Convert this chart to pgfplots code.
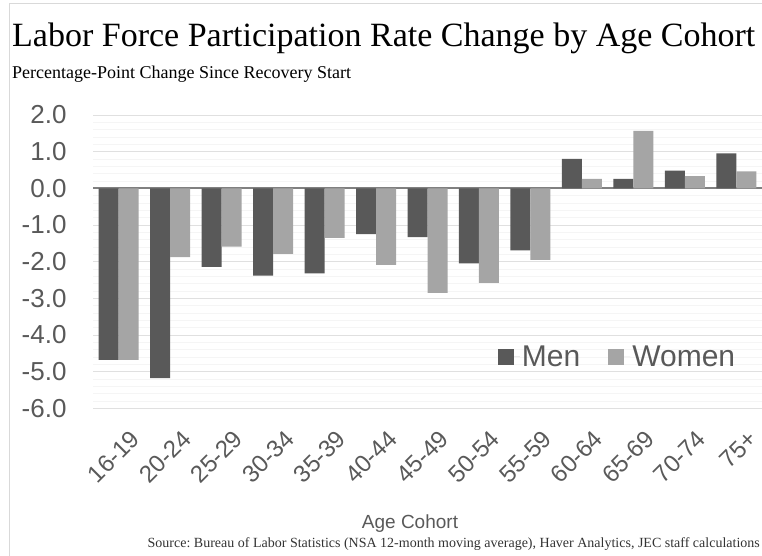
\documentclass[border=0pt]{standalone}
\usepackage{fontspec}
\setmainfont{Liberation Serif}
\setsansfont{Liberation Sans}
\usepackage{pgfplots}
\pgfplotsset{compat=1.18}
\definecolor{men}{HTML}{595959}
\definecolor{women}{HTML}{A5A5A5}
\definecolor{txt}{HTML}{595959}
\frenchspacing
\begin{document}
\begin{tikzpicture}[x=1pt,y=1pt]
\useasboundingbox (0,0) rectangle (762,556);
\draw[gray!30, line width=0.8pt] (9,0) -- (9,553) -- (762,553);
\node[anchor=base west, inner sep=0] at (12,509) {\fontsize{34}{38}\selectfont Labor Force Participation Rate Change by Age Cohort};
\node[anchor=base west, inner sep=0] at (12,477) {\fontsize{18}{22}\selectfont Percentage-Point Change Since Recovery Start};
\begin{axis}[
  at={(93pt,147.7pt)}, anchor=south west,
  scale only axis, width=669pt, height=293.3pt,
  ybar=0pt, bar width=20pt,
  xmin=-0.5, xmax=12.5, ymin=-6, ymax=2,
  xtick={0,...,12},
  xticklabels={16-19,20-24,25-29,30-34,35-39,40-44,45-49,50-54,55-59,60-64,65-69,70-74,75+},
  ytick={-6,-5,...,2},
  yticklabels={-6.0,-5.0,-4.0,-3.0,-2.0,-1.0,0.0,1.0,2.0},
  minor y tick num=4,
  ymajorgrids, yminorgrids,
  major grid style={draw=black!12, line width=0.8pt},
  minor grid style={draw=black!4, line width=0.6pt},
  extra y ticks={0}, extra y tick labels={},
  extra y tick style={major grid style={draw=black!50, line width=1.8pt}},
  axis line style={draw=none},
  major tick length=0pt, minor tick length=0pt,
  yticklabel style={font=\sffamily\fontsize{26}{28}\selectfont, text=txt, xshift=-23pt},
  xticklabel style={font=\sffamily\fontsize{24}{26}\selectfont, text=txt, rotate=45, anchor=north east, inner sep=0pt, xshift=-7pt, yshift=-22pt},
  legend style={draw=none, fill=none, at={(0.605,0.175)}, anchor=west,
    font=\sffamily\fontsize{30}{32}\selectfont, text=txt, inner sep=0pt,
    /tikz/every even column/.append style={column sep=26pt}},
  legend columns=2,
  legend image code/.code={\fill[#1] (0pt,-8pt) rectangle (16pt,8pt); \path (0pt,0pt) -- (22pt,0pt);},
]
\addplot[fill=men, draw=none] coordinates {
 (0,-4.68) (1,-5.18) (2,-2.14) (3,-2.38) (4,-2.32) (5,-1.25) (6,-1.33)
 (7,-2.05) (8,-1.69) (9,0.80) (10,0.26) (11,0.48) (12,0.95)};
\addlegendentry{Men}
\addplot[fill=women, draw=none] coordinates {
 (0,-4.68) (1,-1.88) (2,-1.59) (3,-1.79) (4,-1.35) (5,-2.09) (6,-2.85)
 (7,-2.58) (8,-1.95) (9,0.26) (10,1.57) (11,0.33) (12,0.46)};
\addlegendentry{Women}
\end{axis}
\node[anchor=base, inner sep=0, text=txt] at (410,27) {\sffamily\fontsize{19}{22}\selectfont Age Cohort};
\node[anchor=base east, inner sep=0, text=black!80] at (760,8) {\fontsize{14}{16}\selectfont Source: Bureau of Labor Statistics (NSA 12-month moving average), Haver Analytics, JEC staff calculations};
\end{tikzpicture}
\end{document}
